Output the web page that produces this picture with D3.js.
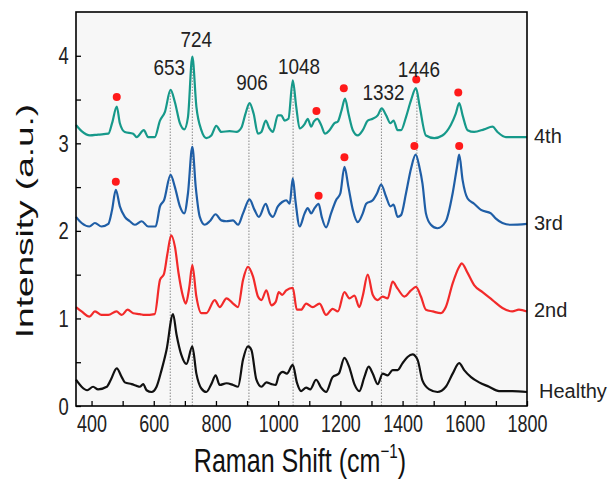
<!DOCTYPE html>
<html>
<head>
<meta charset="utf-8">
<script src="https://cdn.jsdelivr.net/npm/d3@7"></script>
<style>
  body { margin: 0; background: #fff; }
  svg { display: block; font-family: "Liberation Sans", Arial, sans-serif; }
</style>
</head>
<body>
<script>
// spectra: [Raman shift (cm-1), intensity (a.u.)]
const healthy = [[350,0.30],[368,0.22],[386,0.18],[405,0.22],[421,0.19],[449,0.22],[462,0.30],[481,0.43],[497,0.33],[507,0.27],[529,0.25],[545,0.23],[555,0.22],[566,0.25],[577,0.18],[593,0.16],[609,0.22],[625,0.41],[641,0.64],[662,1.05],[673,0.82],[689,0.58],[705,0.48],[724,0.68],[737,0.37],[753,0.20],[769,0.16],[785,0.25],[799,0.35],[812,0.24],[834,0.26],[855,0.24],[871,0.22],[887,0.53],[903,0.68],[914,0.64],[930,0.30],[946,0.22],[962,0.27],[978,0.25],[992,0.24],[1002,0.35],[1015,0.39],[1028,0.37],[1047,0.47],[1060,0.27],[1074,0.17],[1090,0.21],[1103,0.19],[1122,0.30],[1138,0.21],[1154,0.16],[1175,0.33],[1195,0.37],[1213,0.55],[1228,0.45],[1245,0.25],[1261,0.17],[1277,0.33],[1291,0.45],[1304,0.37],[1320,0.25],[1336,0.37],[1352,0.35],[1368,0.41],[1384,0.41],[1400,0.49],[1416,0.56],[1432,0.59],[1448,0.53],[1464,0.29],[1486,0.19],[1512,0.16],[1539,0.22],[1561,0.37],[1582,0.49],[1598,0.41],[1620,0.33],[1646,0.27],[1678,0.22],[1710,0.17],[1753,0.17],[1800,0.16]];

const second = [[350,1.13],[368,1.08],[393,1.02],[411,1.08],[432,1.04],[454,1.04],[480,1.08],[497,1.04],[516,1.10],[534,1.06],[555,1.05],[571,1.04],[603,1.05],[620,1.44],[633,1.51],[644,1.74],[656,1.95],[668,1.82],[680,1.51],[694,1.25],[703,1.17],[714,1.35],[724,1.61],[737,1.25],[753,1.06],[769,1.06],[796,1.21],[812,1.13],[834,1.23],[855,1.17],[871,1.13],[887,1.44],[903,1.59],[919,1.48],[935,1.25],[946,1.21],[962,1.32],[978,1.15],[992,1.19],[1002,1.30],[1013,1.27],[1026,1.32],[1047,1.35],[1060,1.10],[1074,1.10],[1090,1.17],[1111,1.13],[1133,1.17],[1154,1.04],[1175,1.11],[1192,1.08],[1213,1.30],[1229,1.23],[1245,1.26],[1261,1.13],[1272,1.26],[1288,1.50],[1304,1.27],[1320,1.21],[1336,1.25],[1352,1.23],[1368,1.42],[1384,1.34],[1406,1.25],[1427,1.32],[1443,1.36],[1459,1.25],[1475,1.10],[1497,1.08],[1523,1.06],[1539,1.13],[1561,1.40],[1582,1.59],[1590,1.63],[1609,1.52],[1630,1.38],[1657,1.30],[1689,1.21],[1721,1.12],[1753,1.08],[1774,1.10],[1800,1.08]];

const third = [[350,2.16],[368,2.09],[393,2.05],[411,2.09],[432,2.05],[454,2.08],[466,2.24],[478,2.47],[491,2.28],[507,2.16],[523,2.11],[539,2.07],[561,2.11],[582,2.05],[606,2.05],[620,2.28],[633,2.35],[654,2.64],[668,2.50],[684,2.28],[698,2.20],[710,2.43],[724,2.96],[735,2.50],[748,2.16],[764,2.07],[780,2.11],[799,2.19],[817,2.12],[833,2.11],[855,2.12],[871,2.07],[887,2.20],[908,2.36],[924,2.24],[938,2.16],[960,2.31],[972,2.20],[983,2.16],[999,2.28],[1013,2.33],[1026,2.35],[1037,2.31],[1047,2.60],[1056,2.33],[1069,2.05],[1085,2.20],[1095,2.26],[1106,2.20],[1117,2.26],[1130,2.31],[1140,2.16],[1154,2.04],[1170,2.20],[1186,2.35],[1200,2.43],[1213,2.73],[1226,2.50],[1240,2.24],[1256,2.10],[1272,2.20],[1283,2.31],[1304,2.35],[1318,2.43],[1331,2.53],[1347,2.39],[1361,2.28],[1371,2.30],[1384,2.16],[1395,2.18],[1411,2.43],[1427,2.71],[1442,2.87],[1454,2.73],[1464,2.54],[1475,2.20],[1491,2.07],[1512,2.03],[1539,2.11],[1561,2.43],[1575,2.73],[1582,2.87],[1593,2.58],[1609,2.37],[1630,2.31],[1652,2.24],[1684,2.20],[1700,2.14],[1721,2.09],[1748,2.07],[1800,2.08]];

const fourth = [[350,3.21],[368,3.14],[395,3.09],[421,3.10],[454,3.11],[466,3.23],[481,3.42],[491,3.23],[507,3.13],[534,3.11],[545,3.07],[568,3.15],[582,3.07],[603,3.07],[620,3.26],[636,3.36],[654,3.61],[668,3.47],[684,3.23],[698,3.16],[710,3.30],[724,3.99],[737,3.42],[753,3.15],[769,3.06],[785,3.09],[801,3.20],[817,3.13],[844,3.14],[866,3.13],[882,3.18],[895,3.34],[908,3.46],[921,3.34],[935,3.11],[946,3.13],[960,3.26],[972,3.17],[983,3.13],[999,3.32],[1010,3.32],[1021,3.26],[1033,3.28],[1047,3.72],[1058,3.42],[1069,3.17],[1085,3.22],[1095,3.28],[1106,3.19],[1115,3.25],[1126,3.28],[1138,3.21],[1151,3.11],[1165,3.15],[1181,3.23],[1192,3.25],[1204,3.38],[1215,3.51],[1226,3.34],[1240,3.15],[1256,3.09],[1272,3.15],[1288,3.26],[1304,3.28],[1320,3.32],[1333,3.40],[1347,3.32],[1361,3.23],[1371,3.26],[1384,3.15],[1395,3.15],[1411,3.30],[1427,3.49],[1443,3.63],[1455,3.42],[1475,3.09],[1502,3.06],[1528,3.09],[1555,3.21],[1571,3.34],[1582,3.46],[1593,3.32],[1609,3.15],[1630,3.13],[1662,3.16],[1689,3.19],[1705,3.13],[1732,3.07],[1769,3.07],[1800,3.07]];

const seriesNames = ["Healthy", "2nd", "3rd", "4th"];
const seriesColors = ["#111111", "#f22a2a", "#1f5ea6", "#16998a"];

// marked peaks (red dots) for 3rd and 4th
const dots3rd = [[478,2.56],[1130,2.40],[1213,2.84],[1438,2.97],[1582,2.97]];
const dots4th = [[481,3.53],[1123,3.37],[1211,3.63],[1444,3.73],[1579,3.58]];

const peakLabels = [653, 724, 906, 1048, 1332, 1446];

const xTicks = d3.range(400, 1801, 100);
const yTicks = d3.range(0, 4.01, 0.5);

// layout
const width = 612, height = 479;
const margin = {left: 76, right: 527, top: 12, bottom: 406};
const labelShift = {653: [-1, 16], 724: [4, 10], 906: [3, 15], 1048: [6, 9], 1332: [2, 9], 1446: [2, 16]};

const x = d3.scaleLinear().domain([350, 1800]).range([margin.left, margin.right]);
const y = d3.scaleLinear().domain([0, 4.5]).range([margin.bottom, margin.top]);

const svg = d3.select("body").append("svg")
    .attr("width", width)
    .attr("height", height);

svg.append("rect")
    .attr("x", margin.left).attr("y", margin.top)
    .attr("width", margin.right - margin.left).attr("height", margin.bottom - margin.top)
    .attr("fill", "#f7f7f7");

// value of a spectrum at a shift, for the guide line tops
function valueAt(series, s) {
    const i = d3.bisector(d => d[0]).left(series, s);
    if (i <= 0) return series[0][1];
    const a = series[i - 1], b = series[i];
    return a[1] + (b[1] - a[1]) * (s - a[0]) / (b[0] - a[0]);
}

svg.append("g")
    .selectAll("line")
    .data(peakLabels)
    .join("line")
    .attr("x1", d => x(d)).attr("x2", d => x(d))
    .attr("y1", y(0))
    .attr("y2", d => y(valueAt(fourth, d)))
    .attr("stroke", "#888")
    .attr("stroke-width", 1)
    .attr("stroke-dasharray", "1.5,1.5");

const line = d3.line()
    .x(d => x(d[0]))
    .y(d => y(d[1]))
    .curve(d3.curveMonotoneX);

const allSeries = [healthy, second, third, fourth];

svg.append("g")
    .selectAll("path")
    .data(allSeries)
    .join("path")
    .attr("d", line)
    .attr("fill", "none")
    .attr("stroke", (d, i) => seriesColors[i])
    .attr("stroke-width", 2.2)
    .attr("stroke-linejoin", "round");

svg.append("g")
    .selectAll("circle")
    .data(dots3rd.concat(dots4th))
    .join("circle")
    .attr("cx", d => x(d[0]))
    .attr("cy", d => y(d[1]))
    .attr("r", 4)
    .attr("fill", "#ff1a1a");

// axes, ticks pointing inward
const xAxis = svg.append("g")
    .attr("transform", `translate(0,${margin.bottom})`)
    .call(d3.axisBottom(x)
        .tickValues(xTicks)
        .tickSize(-5)
        .tickFormat(d => d % 200 === 0 ? d : ""));

xAxis.selectAll("text")
    .attr("y", 26)
    .attr("dy", null)
    .attr("transform", "scale(0.78,1)");

const yAxis = svg.append("g")
    .attr("transform", `translate(${margin.left},0)`)
    .call(d3.axisLeft(y)
        .tickValues(yTicks)
        .tickSize(-5)
        .tickFormat(d => Number.isInteger(d) ? d : ""));

yAxis.selectAll("text")
    .attr("x", -9)
    .attr("dy", "0.35em")
    .attr("transform", "scale(0.8,1)");

svg.selectAll(".tick line").attr("stroke", "#000").attr("stroke-width", 1.3);
svg.selectAll(".domain").remove();
svg.selectAll(".tick text")
    .attr("font-size", 23)
    .attr("font-family", "Liberation Sans, Arial, sans-serif")
    .attr("fill", "#222");

svg.append("rect")
    .attr("x", margin.left).attr("y", margin.top)
    .attr("width", margin.right - margin.left).attr("height", margin.bottom - margin.top)
    .attr("fill", "none")
    .attr("stroke", "#000")
    .attr("stroke-width", 1.6);

// peak labels
svg.append("g")
    .selectAll("text")
    .data(peakLabels)
    .join("text")
    .attr("transform", d => `translate(${x(d) + labelShift[d][0]},${y(valueAt(fourth, d)) - labelShift[d][1]}) scale(0.86,1)`)
    .attr("text-anchor", "middle")
    .attr("font-size", 22)
    .attr("fill", "#222")
    .text(d => d);

// series names at right end
svg.append("g")
    .selectAll("text")
    .data(allSeries)
    .join("text")
    .attr("x", (d, i) => i === 0 ? margin.right + 12 : margin.right + 7)
    .attr("y", d => y(d[d.length - 1][1]) + 6)
    .attr("font-size", 20)
    .attr("fill", "#222")
    .text((d, i) => seriesNames[i]);

// axis titles
const xTitle = svg.append("text")
    .attr("transform", "translate(300,472) scale(0.76,1)")
    .attr("text-anchor", "middle")
    .attr("font-size", 33)
    .attr("fill", "#111");
xTitle.append("tspan").text("Raman Shift (cm");
xTitle.append("tspan").attr("font-size", 20).attr("dy", -14).text("\u22121");
xTitle.append("tspan").attr("dy", 14).text(")");

svg.append("text")
    .attr("transform", "translate(33,221) scale(0.64,1) rotate(-90)")
    .attr("text-anchor", "middle")
    .attr("font-size", 37)
    .attr("fill", "#111")
    .text("Intensity (a.u.)");
</script>
</body>
</html>
